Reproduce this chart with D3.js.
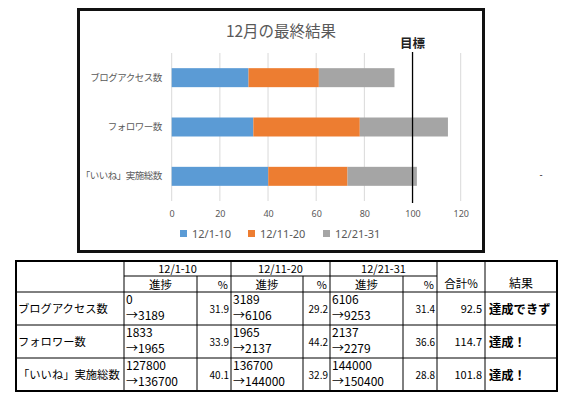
<!DOCTYPE html>
<html>
<head>
<meta charset="utf-8">
<script src="https://cdn.jsdelivr.net/npm/d3@7"></script>
<style>
  body { margin: 0; background: #fff; }
  text { font-family: "Noto Sans CJK JP", "Noto Sans", sans-serif; }
</style>
</head>
<body>
<script>
// data
var categories = ["ブログアクセス数", "フォロワー数", "「いいね」実施総数"];
var periods = ["12/1-10", "12/11-20", "12/21-31"];
var pct1 = [31.9, 33.9, 40.1];
var pct2 = [29.2, 44.2, 32.9];
var pct3 = [31.4, 36.6, 28.8];
var totals = [92.5, 114.7, 101.8];
var prog1 = [["0", "→3189"], ["1833", "→1965"], ["127800", "→136700"]];
var prog2 = [["3189", "→6106"], ["1965", "→2137"], ["136700", "→144000"]];
var prog3 = [["6106", "→9253"], ["2137", "→2279"], ["144000", "→150400"]];
var results = ["達成できず", "達成！", "達成！"];
var target = 100;
var xTicks = [0, 20, 40, 60, 80, 100, 120];
var colors = ["#5b9bd5", "#ed7d31", "#a5a5a5"];

var svg = d3.select("body").append("svg")
    .attr("width", 567)
    .attr("height", 398);

// chart frame
svg.append("rect")
    .attr("x", 78.5).attr("y", 9.5)
    .attr("width", 405).attr("height", 242)
    .attr("fill", "#fff")
    .attr("stroke", "#111").attr("stroke-width", 3);

var x = d3.scaleLinear().domain([0, 120]).range([171.7, 460.7]);
var y = d3.scaleBand().domain(categories).range([53, 201])
    .paddingInner(0.615).paddingOuter(0.3075);

// gridlines
svg.append("g").selectAll("line")
    .data(xTicks)
  .enter().append("line")
    .attr("x1", d => x(d)).attr("x2", d => x(d))
    .attr("y1", 53).attr("y2", 201)
    .attr("stroke", "#d9d9d9").attr("stroke-width", 1);

// stacked bars
var stackData = categories.map(function(c, i) {
  return {cat: c, p0: pct1[i], p1: pct2[i], p2: pct3[i]};
});
var series = d3.stack().keys(["p0", "p1", "p2"])(stackData);
svg.append("g").selectAll("g")
    .data(series)
  .enter().append("g")
    .attr("fill", (d, i) => colors[i])
  .selectAll("rect")
    .data(d => d)
  .enter().append("rect")
    .attr("x", d => x(d[0]))
    .attr("width", d => x(d[1]) - x(d[0]))
    .attr("y", d => y(d.data.cat))
    .attr("height", y.bandwidth());

// x axis labels
var xAxis = svg.append("g")
    .attr("transform", "translate(0,208)")
    .call(d3.axisBottom(x).tickValues(xTicks).tickSize(0).tickPadding(3));
xAxis.select(".domain").remove();
xAxis.selectAll("text")
    .attr("fill", "#595959")
    .style("font-size", "9px")
    .style("font-family", "'Noto Sans', sans-serif");

// y axis labels
var yAxis = svg.append("g")
    .attr("transform", "translate(171.7,0)")
    .call(d3.axisLeft(y).tickSize(0).tickPadding(10));
yAxis.select(".domain").remove();
yAxis.selectAll("text")
    .attr("fill", "#595959")
    .style("font-size", "9.5px")
    .style("letter-spacing", "-0.5px");

// target line
svg.append("line")
    .attr("x1", x(target)).attr("x2", x(target))
    .attr("y1", 52).attr("y2", 203)
    .attr("stroke", "#000").attr("stroke-width", 1.3);
svg.append("text")
    .attr("x", x(target)).attr("y", 48)
    .attr("text-anchor", "middle")
    .style("font-size", "12.5px")
    .style("font-weight", "bold")
    .attr("fill", "#222")
    .text("目標");

// title
svg.append("text")
    .attr("x", 281).attr("y", 37)
    .attr("text-anchor", "middle")
    .attr("fill", "#595959")
    .style("font-size", "15.5px")
    .text("12月の最終結果");

// legend
var legX = [180, 248, 323];
var leg = svg.append("g").selectAll("g")
    .data(periods)
  .enter().append("g")
    .attr("transform", (d, i) => "translate(" + legX[i] + ",230)");
leg.append("rect")
    .attr("width", 7).attr("height", 7)
    .attr("fill", (d, i) => colors[i]);
leg.append("text")
    .attr("x", 12).attr("y", 7.5)
    .attr("fill", "#595959")
    .style("font-size", "11px")
    .style("font-family", "'Noto Sans', sans-serif")
    .text(d => d);

// stray dash outside the chart
svg.append("text")
    .attr("x", 541).attr("y", 178)
    .attr("text-anchor", "middle")
    .style("font-size", "9px")
    .text("-");

// ---------- table ----------
var cols = [16, 124, 197, 231, 303, 330, 403, 437, 485, 557];
var rows = [261, 276, 292, 325, 358, 391];
var tbl = svg.append("g");

function hline(x1, x2, yy, w) {
  tbl.append("line").attr("x1", x1).attr("x2", x2).attr("y1", yy).attr("y2", yy)
    .attr("stroke", "#000").attr("stroke-width", w || 1);
}
function vline(xx, y1, y2, w) {
  tbl.append("line").attr("x1", xx).attr("x2", xx).attr("y1", y1).attr("y2", y2)
    .attr("stroke", "#000").attr("stroke-width", w || 1);
}
function txt(xx, yy, s, anchor, size, bold) {
  tbl.append("text").attr("x", xx).attr("y", yy)
    .attr("text-anchor", anchor || "start")
    .style("font-size", (size || 12) + "px")
    .style("font-weight", bold ? "bold" : "normal")
    .attr("fill", "#000")
    .text(s);
}

// header lines
hline(cols[1], cols[7], rows[1]);
hline(cols[0], cols[9], rows[2]);
hline(cols[0], cols[9], rows[3]);
hline(cols[0], cols[9], rows[4]);
[1, 3, 5, 7, 8].forEach(function(i) { vline(cols[i], rows[0], rows[5]); });
[2, 4, 6].forEach(function(i) { vline(cols[i], rows[1], rows[5]); });
// outer border
tbl.append("rect")
    .attr("x", cols[0]).attr("y", rows[0])
    .attr("width", cols[9] - cols[0]).attr("height", rows[5] - rows[0])
    .attr("fill", "none").attr("stroke", "#000").attr("stroke-width", 2);

// header texts
periods.forEach(function(p, i) {
  var a = cols[1 + 2 * i], b = cols[3 + 2 * i], m = cols[2 + 2 * i];
  txt((a + b) / 2, rows[1] - 3, p, "middle", 11);
  txt((a + m) / 2, rows[2] - 3, "進捗", "middle", 11.5);
  txt(b - 3, rows[2] - 3, "%", "end", 11);
});
txt((cols[7] + cols[8]) / 2, 288, "合計%", "middle", 11.5);
txt((cols[8] + cols[9]) / 2, 288, "結果", "middle", 12);

// body
var progs = [prog1, prog2, prog3];
var pcts = [pct1, pct2, pct3];
categories.forEach(function(c, r) {
  var top = rows[2 + r], bot = rows[3 + r], mid = (top + bot) / 2;
  txt(cols[0] + 2, mid + 4.5, c, "start", 11.3);
  progs.forEach(function(pg, k) {
    var cx = cols[1 + 2 * k] + 2;
    txt(cx, top + 12, pg[r][0], "start", 12);
    txt(cx, top + 28, pg[r][1], "start", 12);
    txt(cols[3 + 2 * k] - 2, mid + 4, pcts[k][r].toFixed(1), "end", 10);
  });
  txt(cols[8] - 3, mid + 4, totals[r].toFixed(1), "end", 11);
  txt(cols[8] + 4, mid + 5, results[r], "start", 12.3, true);
});
</script>
</body>
</html>
